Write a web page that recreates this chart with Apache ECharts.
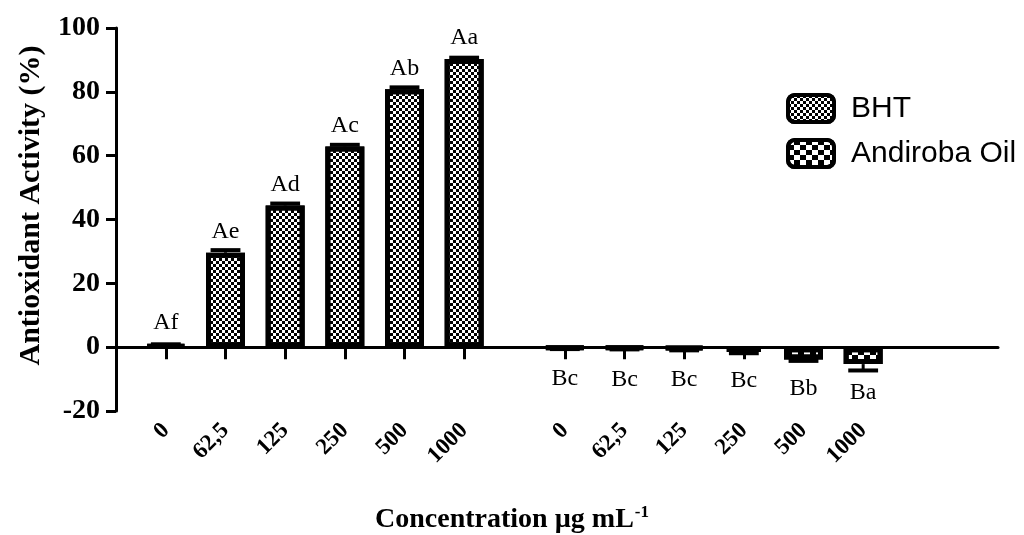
<!DOCTYPE html>
<html>
<head>
<meta charset="utf-8">
<title>Antioxidant Activity</title>
<script src="https://cdn.jsdelivr.net/npm/echarts@6/dist/echarts.min.js"></script>
<style>
  html, body { margin: 0; padding: 0; background: #fff; }
  #chart { width: 1024px; height: 535px; }
</style>
</head>
<body>
<div id="chart"></div>
<script>
// concentrations (µg mL-1), one group per sample
const concentrations = ['0', '62,5', '125', '250', '500', '1000'];

const bhtValues = [0.5, 29.6, 44.4, 62.9, 80.8, 90.3];
const bhtErrors = [0.4, 0.8, 0.6, 0.5, 0.6, 0.4];
const bhtLetters = ['Af', 'Ae', 'Ad', 'Ac', 'Ab', 'Aa'];

const oilValues = [-0.3, -0.4, -0.6, -1.5, -3.9, -5.3];
const oilErrors = [0.3, 0.3, 0.4, 0.4, 0.4, 2.0];
const oilLetters = ['Bc', 'Bc', 'Bc', 'Bc', 'Bb', 'Ba'];

const yTicks = [-20, 0, 20, 40, 60, 80, 100];

const serif = '"Liberation Serif", "Times New Roman", serif';
const sans = '"Liberation Sans", Arial, sans-serif';

const chart = echarts.init(document.getElementById('chart'));

const fineChecker = {
  symbol: 'rect',
  symbolSize: 1,
  color: '#000',
  dashArrayX: [[3, 3], [0, 3, 3, 0]],
  dashArrayY: [3, 0],
};
const coarseChecker = {
  symbol: 'rect',
  symbolSize: 1,
  color: '#000',
  dashArrayX: [[6, 6], [0, 6, 6, 0]],
  dashArrayY: [5, 0],
};

// one-sided error bar, drawn away from zero
function errorBar(params, api) {
  const x = api.value(0);
  const v = api.value(1);
  const e = api.value(2);
  const dir = v < 0 ? -1 : 1;
  const p0 = api.coord([x, v]);
  const p1 = api.coord([x, v + dir * e]);
  const hw = api.size([1, 0])[0] * 0.25;
  return {
    type: 'group',
    children: [
      { type: 'line', shape: { x1: p0[0], y1: p0[1], x2: p1[0], y2: p1[1] }, style: { stroke: '#000', lineWidth: 3 } },
      { type: 'line', shape: { x1: p1[0] - hw, y1: p1[1], x2: p1[0] + hw, y2: p1[1] }, style: { stroke: '#000', lineWidth: 4 } },
    ],
  };
}

const hiddenY = (i) => ({
  type: 'value', gridIndex: i, min: -20, max: 100, interval: 20,
  show: false, splitLine: { show: false },
});

const catX = (i) => ({
  type: 'category',
  gridIndex: i,
  data: concentrations,
  axisLine: { show: true, onZero: true, lineStyle: { color: '#000', width: 3 } },
  axisTick: { show: true, alignWithLabel: true, length: 12, lineStyle: { color: '#000', width: 3 } },
  axisLabel: {
    rotate: 45, margin: 16, interval: 0,
    color: '#000', fontFamily: serif, fontWeight: 'bold', fontSize: 23,
  },
  splitLine: { show: false },
});

const gridBox = { top: 28, bottom: 124, outerBoundsMode: 'none', containLabel: false };

const option = {
  animation: false,
  backgroundColor: '#fff',
  title: {
    text: '{b|Concentration µg mL}{s|-1}',
    left: 'center',
    top: 499,
    textStyle: {
      rich: {
        b: { fontFamily: serif, fontWeight: 'bold', fontSize: 28, color: '#000' },
        s: { fontFamily: serif, fontWeight: 'bold', fontSize: 17, color: '#000', padding: [0, 0, 14, 1] },
      },
    },
  },
  legend: {
    orient: 'vertical',
    left: 781,
    top: 88,
    itemWidth: 46,
    itemHeight: 27,
    itemGap: 14,
    icon: 'roundRect',
    data: ['BHT', 'Andiroba Oil'],
    itemStyle: { borderWidth: 4, borderColor: '#000' },
    textStyle: { fontFamily: sans, fontSize: 30, color: '#000', lineHeight: 30, padding: [0, 0, 0, 12] },
  },
  grid: [
    Object.assign({ left: 116, right: 26 }, gridBox),
    Object.assign({ left: 136, width: 358 }, gridBox),
    Object.assign({ left: 535, width: 358 }, gridBox),
  ],
  xAxis: [
    {
      type: 'value', gridIndex: 0, min: 0, max: 1,
      axisLine: { show: true, onZero: true, lineStyle: { color: '#000', width: 3 } },
      axisTick: { show: false }, axisLabel: { show: false }, splitLine: { show: false },
    },
    catX(1),
    catX(2),
  ],
  yAxis: [
    {
      type: 'value', gridIndex: 0,
      min: yTicks[0], max: yTicks[yTicks.length - 1], interval: 20,
      name: 'Antioxidant Activity (%)',
      nameLocation: 'middle',
      nameRotate: 90,
      nameGap: 70,
      nameTextStyle: { fontFamily: serif, fontWeight: 'bold', fontSize: 30, color: '#000', padding: [0, 0, 0, 28] },
      axisLine: { show: true, lineStyle: { color: '#000', width: 3 } },
      axisTick: { show: true, length: 10, lineStyle: { color: '#000', width: 3 } },
      axisLabel: { margin: 16, color: '#000', fontFamily: serif, fontWeight: 'bold', fontSize: 28 },
      splitLine: { show: false },
    },
    hiddenY(1),
    hiddenY(2),
  ],
  series: [
    {
      name: 'BHT',
      type: 'bar',
      xAxisIndex: 1,
      yAxisIndex: 1,
      barWidth: 39,
      data: bhtValues,
      itemStyle: { color: '#fff', borderColor: '#000', borderWidth: 5, decal: fineChecker },
      label: {
        show: true, position: 'top', distance: 9,
        formatter: (p) => bhtLetters[p.dataIndex],
        fontFamily: serif, fontSize: 24, color: '#000',
      },
    },
    {
      name: 'Andiroba Oil',
      type: 'bar',
      xAxisIndex: 2,
      yAxisIndex: 2,
      barWidth: 39,
      data: oilValues,
      itemStyle: { color: '#fff', borderColor: '#000', borderWidth: 5, decal: coarseChecker },
      label: {
        show: true, position: 'bottom', distance: 17,
        formatter: (p) => oilLetters[p.dataIndex],
        fontFamily: serif, fontSize: 24, color: '#000',
      },
    },
    {
      type: 'custom',
      xAxisIndex: 1,
      yAxisIndex: 1,
      renderItem: errorBar,
      encode: { x: 0, y: 1 },
      data: bhtValues.map((v, i) => [i, v, bhtErrors[i]]),
      z: 3,
    },
    {
      type: 'custom',
      xAxisIndex: 2,
      yAxisIndex: 2,
      renderItem: errorBar,
      encode: { x: 0, y: 1 },
      data: oilValues.map((v, i) => [i, v, oilErrors[i]]),
      z: 3,
    },
  ],
};

chart.setOption(option);
window.addEventListener('resize', chart.resize);
</script>
</body>
</html>
